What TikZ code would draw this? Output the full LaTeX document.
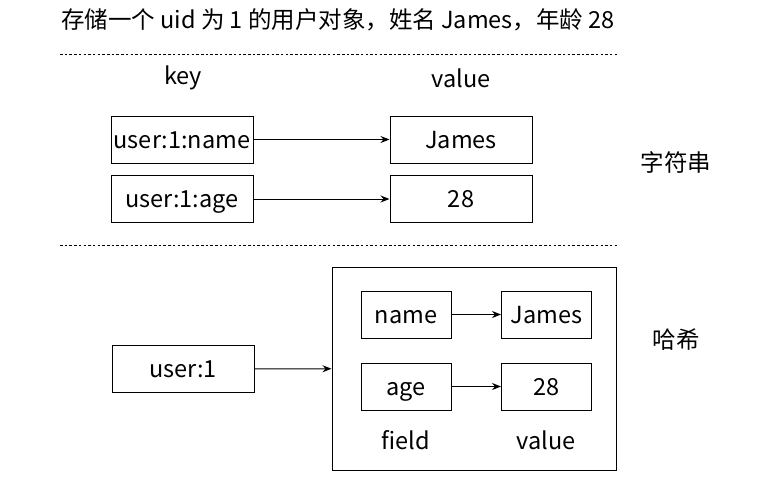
\documentclass[tikz,border=0pt]{standalone}
\usepackage{fontspec}
\setmainfont{Noto Sans CJK SC}
\usetikzlibrary{arrows.meta}

\tikzset{
  cell/.style={draw, minimum width=142pt, minimum height=47pt, inner sep=0pt,
    text height=21pt, text depth=4pt},
  small cell/.style={cell, minimum width=90pt},
  sep line/.style={line width=0.8pt, dash pattern=on 2.5pt off 2.2pt}
}

\begin{document}
\begin{tikzpicture}[x=1pt, y=-1pt, >={Stealth[length=9pt, width=7pt]}, line width=1pt,
  font=\fontsize{23.5}{28}\selectfont]
\useasboundingbox (0,0) rectangle (767,485);

\node (title) at (338,20) {存储一个 uid 为 1 的用户对象，姓名 James，年龄 28};

% string part
\coordinate (sepAl) at (60,54);
\coordinate (sepAr) at (617,54);
\draw[sep line] (sepAl) -- (sepAr);
\node (keyhd) at (183,78) {key};
\node (valhd) at (461,78) {value};
\node[cell] (kname) at (182,139.5) {user:1:name};
\node[cell] (vname) at (461,139.5) {James};
\node[cell] (kage) at (182,199) {user:1:age};
\node[cell] (vage) at (461,199) {28};
\draw[->] (kname) -- (vname);
\draw[->] (kage) -- (vage);
\node (strlbl) at (676,162) {字符串};

% hash part
\coordinate (sepBl) at (60,245);
\coordinate (sepBr) at (617,245);
\draw[sep line] (sepBl) -- (sepBr);
\node[draw, minimum width=284pt, minimum height=203pt, inner sep=0pt] (hash) at (474,368.5) {};
\node[small cell] (fname) at (406,314.5) {name};
\node[small cell] (hname) at (546.5,314.5) {James};
\node[small cell] (fage) at (406,386.5) {age};
\node[small cell] (hage) at (546.5,386.5) {28};
\draw[->] (fname) -- (hname);
\draw[->] (fage) -- (hage);
\node (fieldhd) at (406,440) {field};
\node (hvalhd) at (546,440) {value};
\node[cell] (ukey) at (183,369) {user:1};
\draw[->] (ukey) -- (hash);
\node (hashlbl) at (676,340) {哈希};
\end{tikzpicture}
\end{document}
